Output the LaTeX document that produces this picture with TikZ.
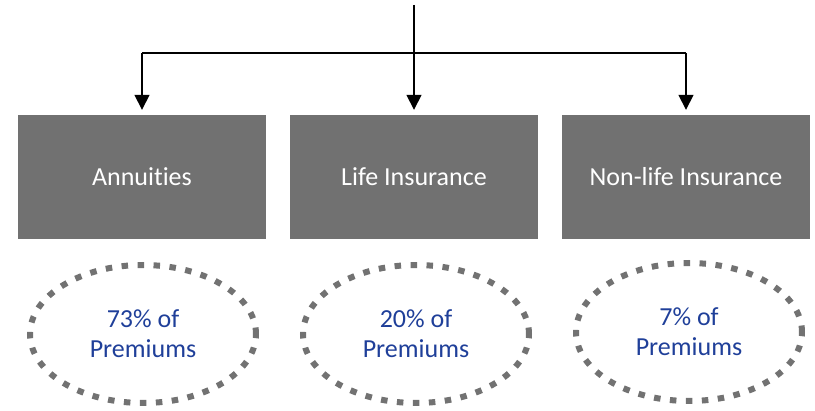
\documentclass[tikz,border=0pt]{standalone}
\usepackage{fontspec}
\setmainfont[Ligatures=NoCommon]{Carlito}
\usetikzlibrary{arrows.meta,shapes.geometric}
\definecolor{boxgray}{HTML}{717171}
\definecolor{dotgray}{HTML}{727272}
\definecolor{txtblue}{HTML}{1F3F99}
\begin{document}
\begin{tikzpicture}[x=1pt,y=-1pt,
  catbox/.style={fill=boxgray,draw=none,minimum width=248pt,minimum height=124pt,inner sep=0pt,
    text=white,font=\fontsize{26}{31}\selectfont},
  share/.style={ellipse,draw=dotgray,line width=6pt,dash pattern=on 6.5pt off 9.5pt,
    minimum width=226pt,minimum height=138pt,inner sep=0pt,text=txtblue,align=center,
    font=\fontsize{26}{30}\selectfont},
  conn/.style={black,line width=1.6pt},
  arr/.style={conn,-{Triangle[width=15pt,length=15pt]},shorten >=5pt}]
\useasboundingbox (0,0) rectangle (815,411);
\node[catbox] (b1) at (142,177) {Annuities};
\node[catbox] (b2) at (414,177) {Life Insurance};
\node[catbox] (b3) at (686,177) {Non-life Insurance};
\node[share] (e1) at (143,334) {73\% of\\Premiums};
\node[share] (e2) at (416,334) {20\% of\\Premiums};
\node[share] (e3) at (689,332) {7\% of\\Premiums};
\coordinate (top) at (414,5);
\coordinate (jl) at (142,53);
\coordinate (jr) at (686,53);
\draw[conn] (jl) -- (jr);
\draw[arr] (top) -- (b2.north);
\draw[arr] (jl) -- (b1.north);
\draw[arr] (jr) -- (b3.north);
\end{tikzpicture}
\end{document}
